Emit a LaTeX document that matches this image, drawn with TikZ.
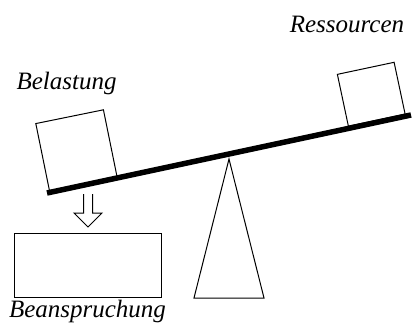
\documentclass[tikz,border=0pt]{standalone}
\usepackage{fontspec}
\setmainfont{Liberation Serif}
\begin{document}
\begin{tikzpicture}[x=1pt,y=1pt,
  lbl/.style={font=\fontsize{25}{30}\selectfont\itshape, inner sep=0pt, anchor=base},
  weight/.style={draw, line width=1pt, inner sep=0pt},
  thin/.style={draw, line width=1pt}]
\useasboundingbox (0,0) rectangle (416,325);
% beam
\coordinate (bl) at (47,132);
\coordinate (br) at (411,210);
\draw[line width=5.5pt] (bl) -- (br);
% fulcrum
\coordinate (apex) at (229,166);
\coordinate (fl) at (194,27);
\coordinate (fr) at (264,27);
\draw[thin, line join=miter] (apex) -- (fl) -- (fr) -- cycle;
% weights
\node[weight, minimum width=69pt, minimum height=69pt, rotate=11.5] (load) at (76.5,174.5) {};
\node[weight, minimum width=58pt, minimum height=53pt, rotate=12] (res) at (371.25,230.75) {};
% stress box
\node[weight, minimum width=147pt, minimum height=64pt] (stress) at (87.5,60) {};
% open arrow
\coordinate (atip) at (88,98);
\draw[thin, line join=miter] (83.5,131) -- (83.5,112) -- (74,112) -- (atip) -- (102,112) -- (92.5,112) -- (92.5,131);
% labels
\node[lbl] (tload) at (66.5,236) {Belastung};
\node[lbl] (tres) at (347,292) {Ressourcen};
\node[lbl] (tstress) at (87.5,8) {Beanspruchung};
\end{tikzpicture}
\end{document}
